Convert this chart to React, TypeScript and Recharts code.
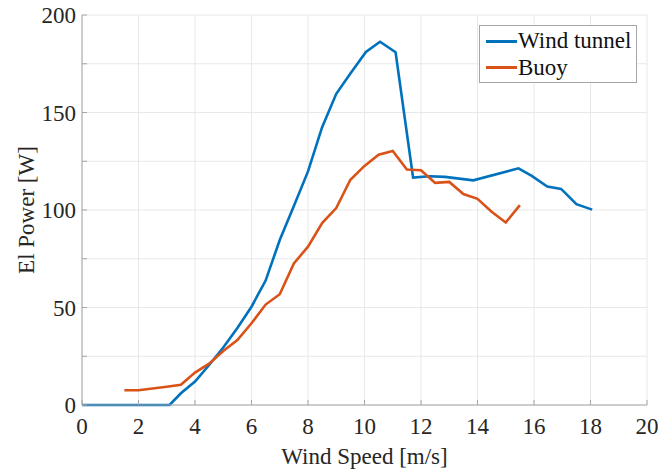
import React from "react";
import {
  LineChart,
  Line,
  XAxis,
  YAxis,
  CartesianGrid,
  Legend,
} from "recharts";

// wind tunnel measurements
const tunnelSpeed = [0, 3.1, 3.5, 4, 4.5, 5, 5.5, 6, 6.5, 7, 7.5, 8, 8.5, 9, 9.5, 10.05, 10.55, 11.1, 11.72, 12.3, 12.85, 13.85, 15.45, 15.92, 16.47, 16.96, 17.5, 18.06];
const tunnelPower = [0, 0, 6, 12, 20.5, 29.5, 39.5, 50.4, 63.8, 84.6, 102, 119.8, 142.5, 159.6, 170, 181, 186.3, 180.9, 116.6, 117.3, 117, 115.2, 121.4, 117.5, 112, 110.8, 103, 100.2];

// buoy measurements
const buoySpeed = [1.5, 2, 2.5, 3, 3.5, 4, 4.5, 5, 5.5, 6, 6.5, 7, 7.5, 8, 8.5, 9, 9.5, 10, 10.5, 11, 11.5, 12, 12.5, 13, 13.5, 14, 14.5, 15, 15.5];
const buoyPower = [7.6, 7.6, 8.5, 9.4, 10.4, 16.6, 21.2, 27.7, 33.3, 41.9, 51.5, 56.8, 72.6, 81.2, 93.3, 101, 115.5, 122.6, 128.4, 130.3, 120.8, 120.4, 113.9, 114.4, 108.2, 105.7, 99.1, 93.6, 102.5];

const xTicks = [0, 2, 4, 6, 8, 10, 12, 14, 16, 18, 20];
const yTicks = [0, 25, 50, 75, 100, 125, 150, 175, 200];

const seriesNames = ["Wind tunnel", "Buoy"];
const seriesColors = ["#0072BD", "#D95319"];

const tunnelData = tunnelSpeed.map((x, i) => ({ x, y: tunnelPower[i] }));
const buoyData = buoySpeed.map((x, i) => ({ x, y: buoyPower[i] }));

const FONT = "'Liberation Serif', 'Times New Roman', serif";
const AXIS = "#a6a6a6";
const TEXT = "#262626";

function BoxLegend() {
  return (
    <div
      style={{
        width: 156,
        height: 56,
        border: `1px solid ${AXIS}`,
        background: "#fff",
        fontFamily: FONT,
        fontSize: 23,
        color: "#111",
        boxSizing: "content-box",
      }}
    >
      {seriesNames.map((name, i) => (
        <div
          key={name}
          style={{ display: "flex", alignItems: "center", height: 26.5, marginTop: i === 0 ? 2 : 0 }}
        >
          <span
            style={{
              display: "inline-block",
              width: 31,
              height: 3,
              marginLeft: 6,
              marginRight: 1,
              background: seriesColors[i],
            }}
          />
          <span style={{ lineHeight: "26px" }}>{name}</span>
        </div>
      ))}
    </div>
  );
}

export default function App() {
  const tickStyle = { fontFamily: FONT, fontSize: 23, fill: TEXT };
  return (
    <div style={{ position: "absolute", left: 0, top: 0, background: "#fff" }}>
      <LineChart
        width={658}
        height={472}
        margin={{ top: 15, right: 11, bottom: 0, left: 0 }}
      >
        <CartesianGrid stroke="#e8e8e8" strokeWidth={1} />
        <XAxis
          dataKey="x"
          type="number"
          domain={[0, 20]}
          ticks={xTicks}
          interval={0}
          height={67}
          stroke={AXIS}
          tickSize={-5}
          tickMargin={18}
          tick={tickStyle}
          label={{
            value: "Wind Speed [m/s]",
            position: "insideBottom",
            offset: 8,
            style: { fontFamily: FONT, fontSize: 23, fill: TEXT },
          }}
        />
        <XAxis
          xAxisId="top"
          orientation="top"
          dataKey="x"
          type="number"
          domain={[0, 20]}
          ticks={xTicks}
          interval={0}
          height={0}
          stroke={AXIS}
          tickSize={-5}
          tickFormatter={() => ""}
        />
        <YAxis
          type="number"
          domain={[0, 200]}
          ticks={yTicks}
          interval={0}
          width={82}
          stroke={AXIS}
          tickSize={-5}
          tickMargin={11}
          tick={tickStyle}
          tickFormatter={(v: number) => (v % 50 === 0 ? String(v) : "")}
          label={{
            value: "El Power [W]",
            angle: -90,
            position: "insideLeft",
            offset: 26,
            style: { fontFamily: FONT, fontSize: 23, fill: TEXT, textAnchor: "middle" },
          }}
        />
        <YAxis
          yAxisId="right"
          orientation="right"
          type="number"
          domain={[0, 200]}
          ticks={yTicks}
          interval={0}
          width={0}
          stroke={AXIS}
          tickSize={-5}
          tickFormatter={() => ""}
        />
        <Legend
          layout="vertical"
          align="center"
          verticalAlign="middle"
          content={() => <BoxLegend />}
          wrapperStyle={{ position: "absolute", top: 25, left: 479, width: 158, height: 58 }}
        />
        <Line
          data={tunnelData}
          dataKey="y"
          name={seriesNames[0]}
          type="linear"
          stroke={seriesColors[0]}
          strokeWidth={2.6}
          dot={false}
          isAnimationActive={false}
        />
        <Line
          data={buoyData}
          dataKey="y"
          name={seriesNames[1]}
          type="linear"
          stroke={seriesColors[1]}
          strokeWidth={2.6}
          dot={false}
          isAnimationActive={false}
        />
      </LineChart>
    </div>
  );
}
